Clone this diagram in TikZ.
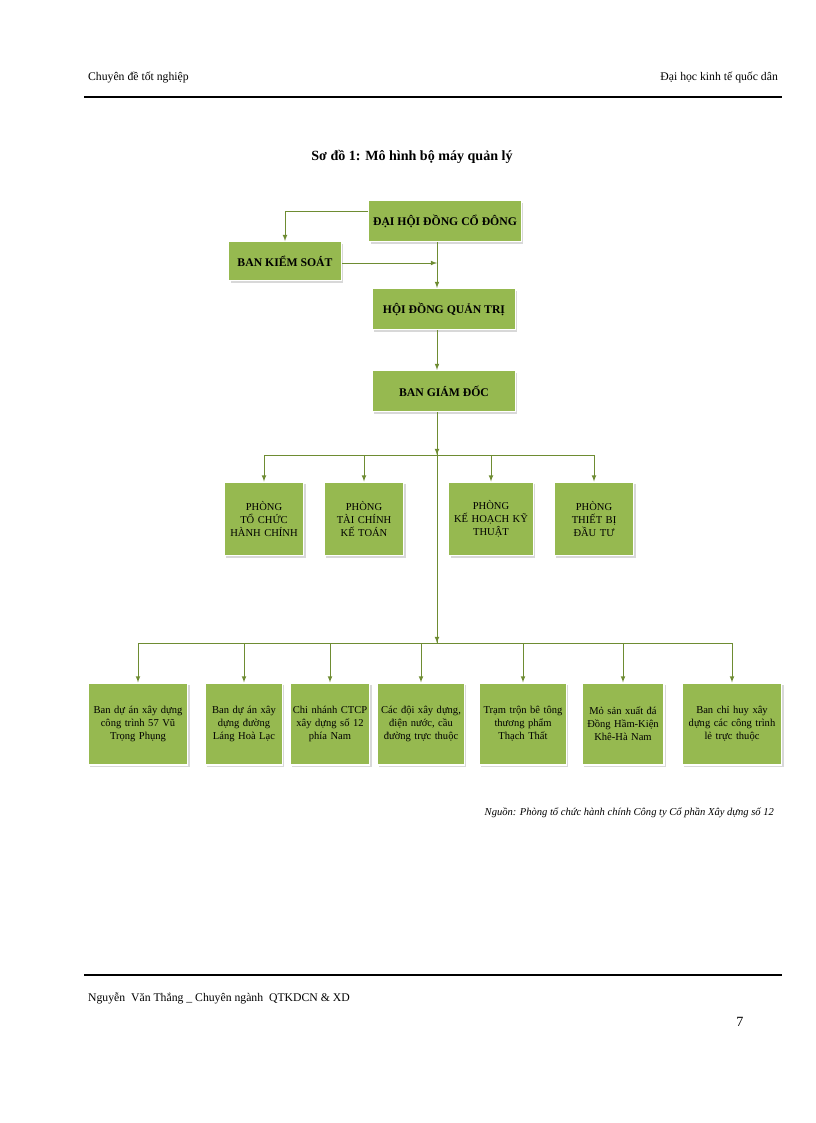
\documentclass[tikz,border=0pt]{standalone}
\usepackage{fontspec}
\setmainfont{Liberation Serif}
\usetikzlibrary{shadows}
\definecolor{boxgreen}{RGB}{150,185,80}
\definecolor{linegreen}{RGB}{110,140,50}
\begin{document}
\begin{tikzpicture}[x=0.03cm,y=-0.03cm]
  \tikzset{box/.style={draw=white,line width=1pt,fill=boxgreen,align=center,inner sep=1pt,
      drop shadow={fill=gray!60,shadow xshift=1.5pt,shadow yshift=-2pt}},
    top/.style={box,font=\bfseries,minimum width=122pt,minimum height=35pt},
    dept/.style={box,font=\small,text width=66pt,minimum height=63pt},
    unit/.style={box,font=\small,text width=#1,minimum height=70pt},
    link/.style={linegreen,line width=0.8pt},
    arr/.style={link,-latex}};
  \useasboundingbox (0,0) rectangle (816,1123);
  % header and footer
  \node[anchor=west] (hl) at (84,78) {Chuyên đề tốt nghiệp};
  \node[anchor=east] (hr) at (782,78) {Đại học kinh tế quốc dân};
  \draw[line width=2.2pt] (84,97) -- (782,97);
  \node[font=\large\bfseries] (title) at (412,157) {Sơ đồ 1: Mô hình bộ máy quản lý};
  \draw[line width=2.2pt] (84,975) -- (782,975);
  \node[anchor=west] (ft) at (84,998) {Nguyễn\ \ Văn Thắng \_ Chuyên ngành\ \ QTKDCN \& XD};
  \node[font=\large] (pg) at (740,1022) {7};
  \node[anchor=east,font=\small\itshape] (src) at (778,813)
    {Nguồn: Phòng tổ chức hành chính Công ty Cổ phần Xây dựng số 12};
  % top levels
  \node[top,minimum width=130pt] (dh) at (445,221) {ĐẠI HỘI ĐỒNG CỔ ĐÔNG};
  \node[top,minimum width=96pt,minimum height=33pt] (bks) at (285,261) {BAN KIỂM SOÁT};
  \node[top] (hd) at (444,309) {HỘI ĐỒNG QUẢN TRỊ};
  \node[top] (bg) at (444,391) {BAN GIÁM ĐỐC};
  % departments
  \node[dept] (p1) at (264,519) {PHÒNG\\TỔ CHỨC\\HÀNH CHÍNH};
  \node[dept] (p2) at (364,519) {PHÒNG\\TÀI CHÍNH\\KẾ TOÁN};
  \node[dept,text width=70pt] (p3) at (491,519) {PHÒNG\\KẾ HOẠCH KỸ\\THUẬT};
  \node[dept] (p4) at (594,519) {PHÒNG\\THIẾT BỊ\\ĐẦU TƯ};
  % units
  \node[unit=83pt] (u1) at (138,724) {Ban dự án xây dựng\\công trình 57 Vũ\\Trọng Phụng};
  \node[unit=64pt] (u2) at (244,724) {Ban dự án xây\\dựng đường\\Láng Hoà Lạc};
  \node[unit=66pt] (u3) at (330,724) {Chi nhánh CTCP\\xây dựng số 12\\phía Nam};
  \node[unit=72pt] (u4) at (421,724) {Các đội xây dựng,\\điện nước, cầu\\đường trực thuộc};
  \node[unit=72pt] (u5) at (523,724) {Trạm trộn bê tông\\thương phẩm\\Thạch Thất};
  \node[unit=68pt] (u6) at (623,724) {Mỏ sản xuất đá\\Đồng Hầm-Kiện\\Khê-Hà Nam};
  \node[unit=83pt] (u7) at (732,724) {Ban chỉ huy xây\\dựng các công trình\\lẻ trực thuộc};
  % connectors
  \coordinate (j1) at (437,263);
  \coordinate (b1) at (437,455);
  \coordinate (b2) at (437,643);
  \draw[arr] (dh.west |- 0,211) -| (bks.north);
  \draw[arr] (bks.east |- j1) -- (j1);
  \draw[arr] (dh.south -| j1) -- (hd.north -| j1);
  \draw[arr] (hd.south -| j1) -- (bg.north -| j1);
  \draw[link] (bg.south -| j1) -- (b2);
  \draw[link] (p1.north |- b1) -- (p4.north |- b1);
  \draw[link] (u1.north |- b2) -- (u7.north |- b2);
  \draw[arr] (bg.south -| j1) -- (b1);
  \draw[arr] (j1 |- b1) -- (b2);
  \foreach \p in {p1,p2,p3,p4}
    \draw[arr] (\p.north |- b1) -- (\p.north);
  \foreach \u in {u1,u2,u3,u4,u5,u6,u7}
    \draw[arr] (\u.north |- b2) -- (\u.north);
\end{tikzpicture}
\end{document}
